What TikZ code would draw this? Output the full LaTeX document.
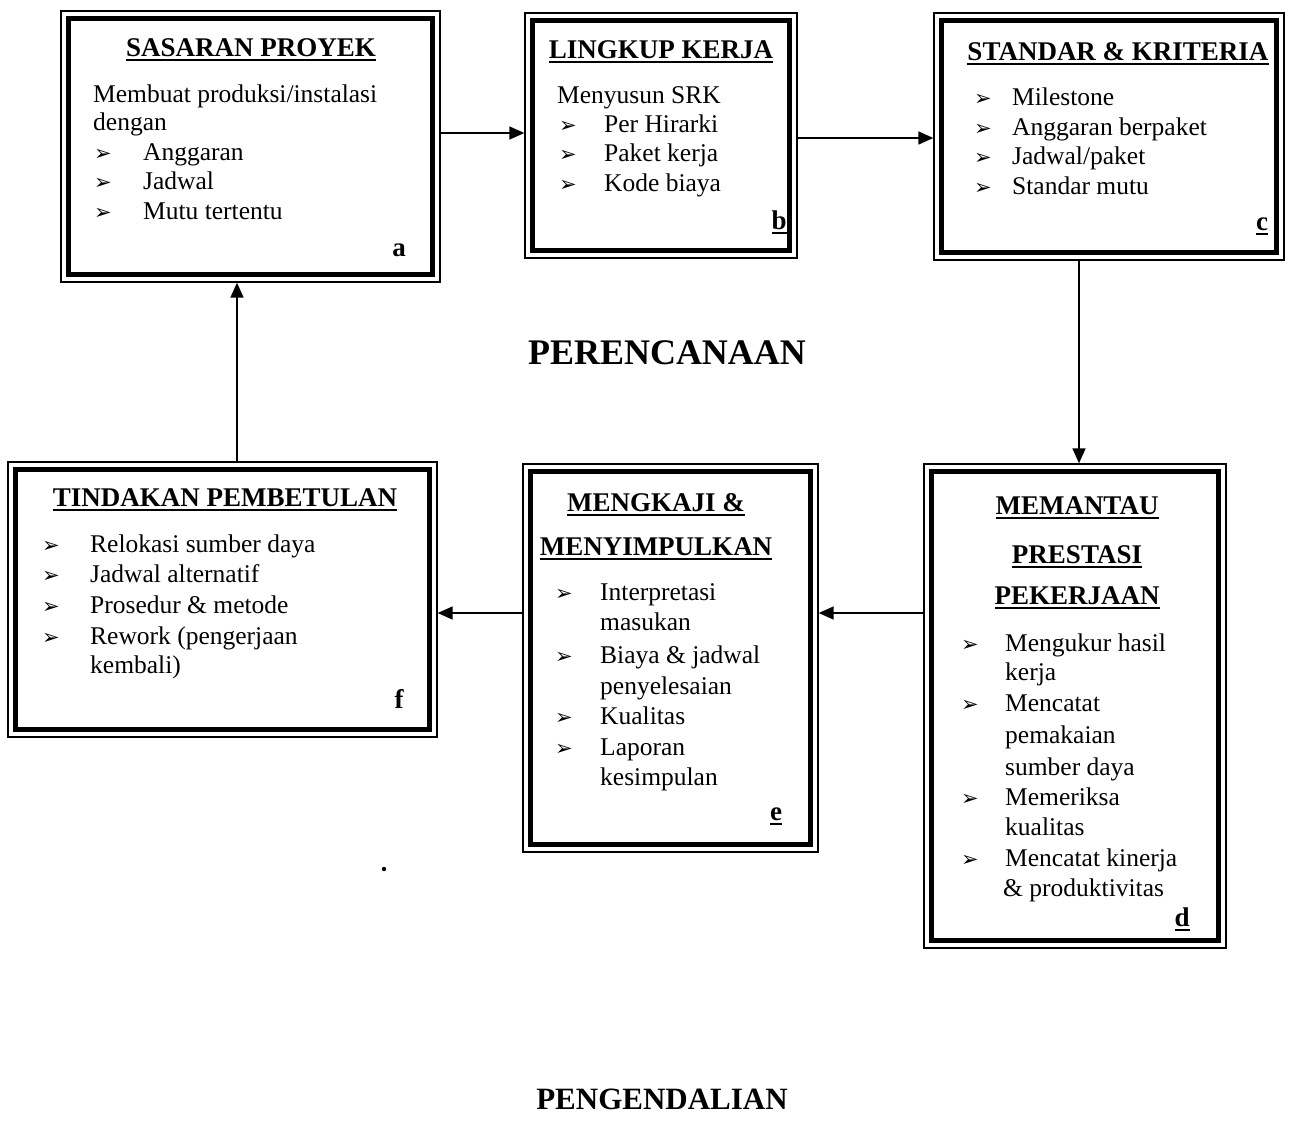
\documentclass[tikz,border=0pt]{standalone}
\usepackage{fontspec}
\setmainfont{Liberation Serif}
\newfontfamily\dingfont{DejaVu Sans}
\usetikzlibrary{arrows.meta}
\newcommand\bodyf{\fontsize{25.5}{30}\selectfont}
\newcommand\headf{\fontsize{27}{30}\selectfont\bfseries}
\newcommand\bul{{\dingfont\fontsize{21}{21}\selectfont ➢}}
\newcommand\ulin[1]{\setbox0=\hbox{#1}\rlap{\rule[-5pt]{\wd0}{2pt}}\box0}
\tikzset{
  frame/.style={draw, line width=1.3pt, inner sep=0pt, rectangle,
    path picture={\draw[line width=5.5pt]
      ([shift={(7.5pt,-7.5pt)}]path picture bounding box.north west) rectangle
      ([shift={(-7.5pt,7.5pt)}]path picture bounding box.south east);}},
  txt/.style={font=\bodyf, inner sep=0pt, anchor=base west},
  hd/.style={font=\headf, inner sep=0pt, anchor=base},
  bl/.style={inner sep=0pt, anchor=base west},
  lbl/.style={font=\headf, inner sep=0pt, anchor=base},
  big/.style={font=\fontsize{36}{40}\selectfont\bfseries, inner sep=0pt, anchor=base},
  arr/.style={line width=1.5pt, -{Triangle[length=15pt,width=13pt]}}
}
\begin{document}
\begin{tikzpicture}[x=1pt,y=-1pt]
\useasboundingbox[fill=white] (0,0) rectangle (1303,1120);

% frames
\node[frame, minimum width=379pt, minimum height=271pt] (A) at (250.5,146.5) {};
\node[frame, minimum width=272pt, minimum height=245pt] (B) at (661,135.5) {};
\node[frame, minimum width=350pt, minimum height=247pt] (C) at (1109,136.5) {};
\node[frame, minimum width=302pt, minimum height=484pt] (D) at (1075,706) {};
\node[frame, minimum width=295pt, minimum height=388pt] (E) at (670.5,658) {};
\node[frame, minimum width=429pt, minimum height=275pt] (F) at (222.5,599.5) {};

% box a
\node[hd] (aH) at (251,56) {\ulin{SASARAN PROYEK}};
\node[txt] (a1) at (93,102) {Membuat produksi/instalasi};
\node[txt] (a2) at (93,130) {dengan};
\node[bl] (ab1) at (94,160) {\bul};
\node[txt] (a3) at (143,160) {Anggaran};
\node[bl] (ab2) at (94,189) {\bul};
\node[txt] (a4) at (143,189) {Jadwal};
\node[bl] (ab3) at (94,219) {\bul};
\node[txt] (a5) at (143,219) {Mutu tertentu};
\node[lbl] (aL) at (399,256) {a};

% box b
\node[hd] (bH) at (661,58) {\ulin{LINGKUP KERJA}};
\node[txt] (b1) at (557,103) {Menyusun SRK};
\node[bl] (bb1) at (559,132) {\bul};
\node[txt] (b2) at (604,132) {Per Hirarki};
\node[bl] (bb2) at (559,161) {\bul};
\node[txt] (b3) at (604,161) {Paket kerja};
\node[bl] (bb3) at (559,191) {\bul};
\node[txt] (b4) at (604,191) {Kode biaya};
\node[lbl] (bL) at (779,229) {\ulin{b}};

% box c
\node[hd] (cH) at (1118,60) {\ulin{STANDAR \& KRITERIA}};
\node[bl] (cb1) at (974,105) {\bul};
\node[txt] (c1) at (1012,105) {Milestone};
\node[bl] (cb2) at (974,135) {\bul};
\node[txt] (c2) at (1012,135) {Anggaran berpaket};
\node[bl] (cb3) at (974,164) {\bul};
\node[txt] (c3) at (1012,164) {Jadwal/paket};
\node[bl] (cb4) at (974,194) {\bul};
\node[txt] (c4) at (1012,194) {Standar mutu};
\node[lbl] (cL) at (1262,230) {\ulin{c}};

% box d
\node[hd] (dH1) at (1077,514) {\ulin{MEMANTAU}};
\node[hd] (dH2) at (1077,563) {\ulin{PRESTASI}};
\node[hd] (dH3) at (1077,604) {\ulin{PEKERJAAN}};
\node[bl] (db1) at (961,651) {\bul};
\node[txt] (d1) at (1005,651) {Mengukur hasil};
\node[txt] (d2) at (1005,680) {kerja};
\node[bl] (db2) at (961,711) {\bul};
\node[txt] (d3) at (1005,711) {Mencatat};
\node[txt] (d4) at (1005,743) {pemakaian};
\node[txt] (d5) at (1005,775) {sumber daya};
\node[bl] (db3) at (961,805) {\bul};
\node[txt] (d6) at (1005,805) {Memeriksa};
\node[txt] (d7) at (1005,835) {kualitas};
\node[bl] (db4) at (961,866) {\bul};
\node[txt] (d8) at (1005,866) {Mencatat kinerja};
\node[txt] (d9) at (1003,896) {\& produktivitas};
\node[lbl] (dL) at (1182,926) {\ulin{d}};

% box e
\node[hd] (eH1) at (656,511) {\ulin{MENGKAJI \&}};
\node[hd] (eH2) at (656,555) {\ulin{MENYIMPULKAN}};
\node[bl] (eb1) at (555,600) {\bul};
\node[txt] (e1) at (600,600) {Interpretasi};
\node[txt] (e2) at (600,630) {masukan};
\node[bl] (eb2) at (555,663) {\bul};
\node[txt] (e3) at (600,663) {Biaya \& jadwal};
\node[txt] (e4) at (600,694) {penyelesaian};
\node[bl] (eb3) at (555,724) {\bul};
\node[txt] (e5) at (600,724) {Kualitas};
\node[bl] (eb4) at (555,755) {\bul};
\node[txt] (e6) at (600,755) {Laporan};
\node[txt] (e7) at (600,785) {kesimpulan};
\node[lbl] (eL) at (776,820) {\ulin{e}};

% box f
\node[hd] (fH) at (225,506) {\ulin{TINDAKAN PEMBETULAN}};
\node[bl] (fb1) at (42,552) {\bul};
\node[txt] (f1) at (90,552) {Relokasi sumber daya};
\node[bl] (fb2) at (42,582) {\bul};
\node[txt] (f2) at (90,582) {Jadwal alternatif};
\node[bl] (fb3) at (42,613) {\bul};
\node[txt] (f3) at (90,613) {Prosedur \& metode};
\node[bl] (fb4) at (42,644) {\bul};
\node[txt] (f4) at (90,644) {Rework (pengerjaan};
\node[txt] (f5) at (90,673) {kembali)};
\node[lbl] (fL) at (399,708) {f};

% big labels
\node[big] (P1) at (667,364) {PERENCANAAN};
\node[font=\fontsize{31}{34}\selectfont\bfseries, inner sep=0pt, anchor=base] (P2) at (662,1109) {PENGENDALIAN};

% stray dot
\fill (384,869) circle (2.2pt);

% connectors
\draw[arr] (A.east |- 0,133) -- (B.west |- 0,133);
\draw[arr] (B.east |- 0,138) -- (C.west |- 0,138);
\draw[arr] (C.south -| 1079,0) -- (D.north -| 1079,0);
\draw[arr] (D.west |- 0,613) -- (E.east |- 0,613);
\draw[arr] (E.west |- 0,613) -- (F.east |- 0,613);
\draw[arr] (F.north -| 237,0) -- (A.south -| 237,0);
\end{tikzpicture}
\end{document}
